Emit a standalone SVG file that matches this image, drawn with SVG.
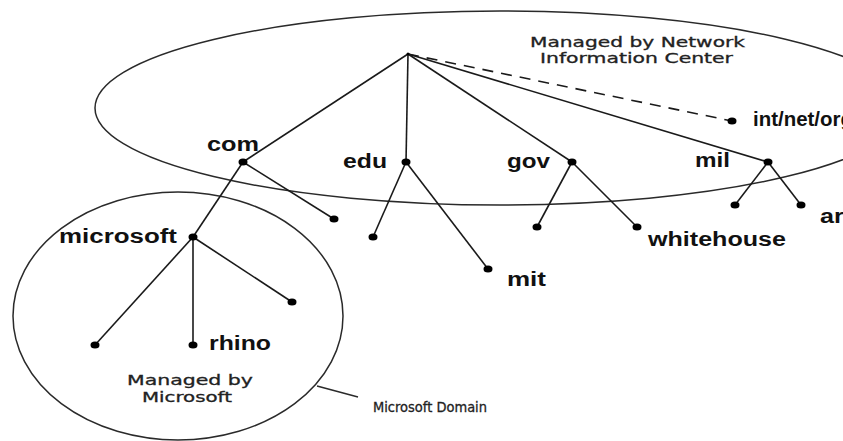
<svg xmlns="http://www.w3.org/2000/svg" width="843" height="441" viewBox="0 0 843 441">
<style>
.bg{fill:#fff}
.region{fill:none;stroke:#2a2a2a;stroke-width:1.5}
.edge{stroke:#1a1a1a;stroke-width:1.6;fill:none}
.dash{stroke-dasharray:11 8}
.dot{fill:#000}
.lbl{font-family:"Liberation Sans",Arial,sans-serif;font-weight:bold;font-size:20px;fill:#111}
.note{font-family:"DejaVu Sans","Liberation Sans",sans-serif;font-size:14px;fill:#222;stroke:#222;stroke-width:0.3}
</style>
<rect class="bg" x="0" y="0" width="843" height="441"/>
<g id="regions">
  <ellipse id="nic-region" class="region" cx="500" cy="108" rx="405" ry="97"/>
  <ellipse id="microsoft-region" class="region" cx="178" cy="316" rx="165" ry="124"/>
  <line class="region" x1="317" y1="386" x2="358" y2="397"/>
</g>
<g id="connectors">
  <line class="edge" x1="408" y1="54" x2="243" y2="162"/>
  <line class="edge" x1="408" y1="54" x2="406" y2="162"/>
  <line class="edge" x1="408" y1="54" x2="572" y2="162"/>
  <line class="edge" x1="408" y1="54" x2="768" y2="162"/>
  <line class="edge dash" x1="408" y1="54" x2="732" y2="121"/>
  <line class="edge" x1="243" y1="162" x2="193" y2="237"/>
  <line class="edge" x1="243" y1="162" x2="334" y2="219"/>
  <line class="edge" x1="406" y1="162" x2="373" y2="237"/>
  <line class="edge" x1="406" y1="162" x2="488" y2="269"/>
  <line class="edge" x1="572" y1="162" x2="537" y2="227"/>
  <line class="edge" x1="572" y1="162" x2="637" y2="227"/>
  <line class="edge" x1="768" y1="162" x2="735" y2="205"/>
  <line class="edge" x1="768" y1="162" x2="801" y2="205"/>
  <line class="edge" x1="193" y1="237" x2="95" y2="345"/>
  <line class="edge" x1="193" y1="237" x2="193" y2="345"/>
  <line class="edge" x1="193" y1="237" x2="292" y2="302"/>
</g>
<g id="root"><circle class="dot" cx="408" cy="54" r="1.5"/></g>
<g id="com"><ellipse class="dot" cx="243" cy="162" rx="4.5" ry="3.5"/><text class="lbl" x="207" y="151" textLength="52" lengthAdjust="spacingAndGlyphs">com</text></g>
<g id="edu"><ellipse class="dot" cx="406" cy="162" rx="4.5" ry="3.5"/><text class="lbl" x="343" y="168" textLength="44" lengthAdjust="spacingAndGlyphs">edu</text></g>
<g id="gov"><ellipse class="dot" cx="572" cy="162" rx="4.5" ry="3.5"/><text class="lbl" x="507" y="168" textLength="43" lengthAdjust="spacingAndGlyphs">gov</text></g>
<g id="mil"><ellipse class="dot" cx="768" cy="162" rx="4.5" ry="3.5"/><text class="lbl" x="695" y="167" textLength="35" lengthAdjust="spacingAndGlyphs">mil</text></g>
<g id="int-net-org"><ellipse class="dot" cx="732" cy="121" rx="4.5" ry="3.5"/><text class="lbl" x="753" y="126" textLength="100" lengthAdjust="spacingAndGlyphs">int/net/org</text></g>
<g id="com-leaf"><ellipse class="dot" cx="334" cy="219" rx="4.5" ry="3.5"/></g>
<g id="microsoft"><ellipse class="dot" cx="193" cy="237" rx="4.5" ry="3.5"/><text class="lbl" x="59" y="243" textLength="118" lengthAdjust="spacingAndGlyphs">microsoft</text></g>
<g id="edu-leaf"><ellipse class="dot" cx="373" cy="237" rx="4.5" ry="3.5"/></g>
<g id="mit"><ellipse class="dot" cx="488" cy="269" rx="4.5" ry="3.5"/><text class="lbl" x="507" y="286" textLength="39" lengthAdjust="spacingAndGlyphs">mit</text></g>
<g id="gov-leaf"><ellipse class="dot" cx="537" cy="227" rx="4.5" ry="3.5"/></g>
<g id="whitehouse"><ellipse class="dot" cx="637" cy="227" rx="4.5" ry="3.5"/><text class="lbl" x="648" y="246" textLength="138" lengthAdjust="spacingAndGlyphs">whitehouse</text></g>
<g id="mil-leaf"><ellipse class="dot" cx="735" cy="205" rx="4.5" ry="3.5"/></g>
<g id="army"><ellipse class="dot" cx="801" cy="205" rx="4.5" ry="3.5"/><text class="lbl" x="820" y="223" textLength="60" lengthAdjust="spacingAndGlyphs">army</text></g>
<g id="ms-leaf-left"><ellipse class="dot" cx="95" cy="345" rx="4.5" ry="3.5"/></g>
<g id="rhino"><ellipse class="dot" cx="193" cy="345" rx="4.5" ry="3.5"/><text class="lbl" x="209" y="350" textLength="62" lengthAdjust="spacingAndGlyphs">rhino</text></g>
<g id="ms-leaf-right"><ellipse class="dot" cx="292" cy="302" rx="4.5" ry="3.5"/></g>
<g id="notes">
  <text class="note" x="530" y="47" textLength="215" lengthAdjust="spacingAndGlyphs">Managed by Network</text>
  <text class="note" x="540" y="63" textLength="193" lengthAdjust="spacingAndGlyphs">Information Center</text>
  <text class="note" x="127" y="385" textLength="126" lengthAdjust="spacingAndGlyphs">Managed by</text>
  <text class="note" x="142" y="402" textLength="90" lengthAdjust="spacingAndGlyphs">Microsoft</text>
  <text class="note" x="373" y="412" textLength="114" lengthAdjust="spacingAndGlyphs">Microsoft Domain</text>
</g>
</svg>
